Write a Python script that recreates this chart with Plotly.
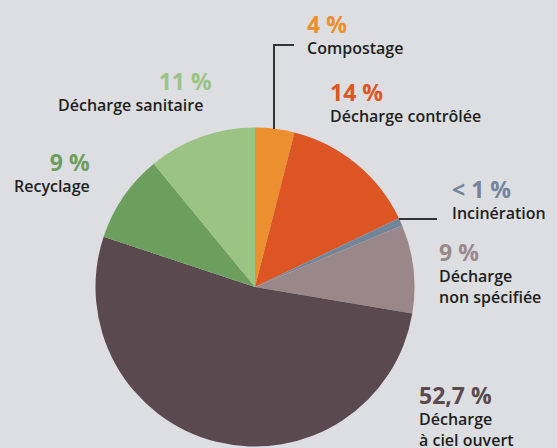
import plotly.graph_objects as go

W, H = 557, 448

categories = ["Compostage", "Décharge contrôlée", "Incinération", "Décharge non spécifiée",
              "Décharge à ciel ouvert", "Recyclage", "Décharge sanitaire"]
values = [4, 14, 0.8, 9, 52.7, 9, 11]
pct_labels = ["4 %", "14 %", "< 1 %", "9 %", "52,7 %", "9 %", "11 %"]
label_texts = ["Compostage", "Décharge contrôlée", "Incinération", "Décharge<br>non spécifiée",
               "Décharge<br>à ciel ouvert", "Recyclage", "Décharge sanitaire&nbsp;&nbsp;"]
colors = ["#ec8f2f", "#dc5522", "#73859b", "#9a8789", "#5a4a50", "#6c9e5e", "#9bc384"]

BG = "#dcdee2"
TXT = "#231f20"
FONT = "Open Sans"

def px(x):
    return x / W

def py(y):
    return 1 - y / H

cx, cy, r = 255, 287, 159.5

fig = go.Figure(go.Pie(
    labels=categories, values=values, sort=False, direction="clockwise", rotation=0,
    marker=dict(colors=colors, line=dict(width=0)),
    textinfo="none", hoverinfo="label+percent", showlegend=False,
    domain=dict(x=[px(cx - r), px(cx + r)], y=[py(cy + r), py(cy - r)]),
))

# label block placements (pixel positions of block centre): (x, y, anchor)
block_pos = [(305, 33, "left"), (328, 101, "left"), (450, 198, "left"), (437, 272, "left"),
             (417, 415, "left"), (92, 171, "right"), (214, 90, "right")]

annotations = []
for i in range(len(categories)):
    x, y, a = block_pos[i]
    txt = (f"<span style='font-size:23px;font-weight:bold;color:{colors[i]}'>{pct_labels[i]}</span>"
           f"<br>{label_texts[i]}")
    annotations.append(dict(x=px(x), y=py(y), xref="paper", yref="paper", text=txt,
                            showarrow=False, xanchor=a, yanchor="middle", align=a,
                            font=dict(family=FONT, size=16, color=TXT, weight=600)))

line = dict(color="#333333", width=2)
shapes = [
    dict(type="path", xref="paper", yref="paper",
         path=f"M {px(274)} {py(129)} L {px(274)} {py(45)} L {px(294)} {py(45)}", line=line),
    dict(type="line", xref="paper", yref="paper", x0=px(399), y0=py(219), x1=px(437), y1=py(219), line=line),
]

fig.update_layout(
    width=W, height=H, margin=dict(l=0, r=0, t=0, b=0),
    paper_bgcolor=BG, plot_bgcolor=BG,
    annotations=annotations, shapes=shapes,
)

fig.write_html("out.html", config={"displayModeBar": False},
               post_script="document.body.style.margin='0';document.body.style.overflow='hidden';")
